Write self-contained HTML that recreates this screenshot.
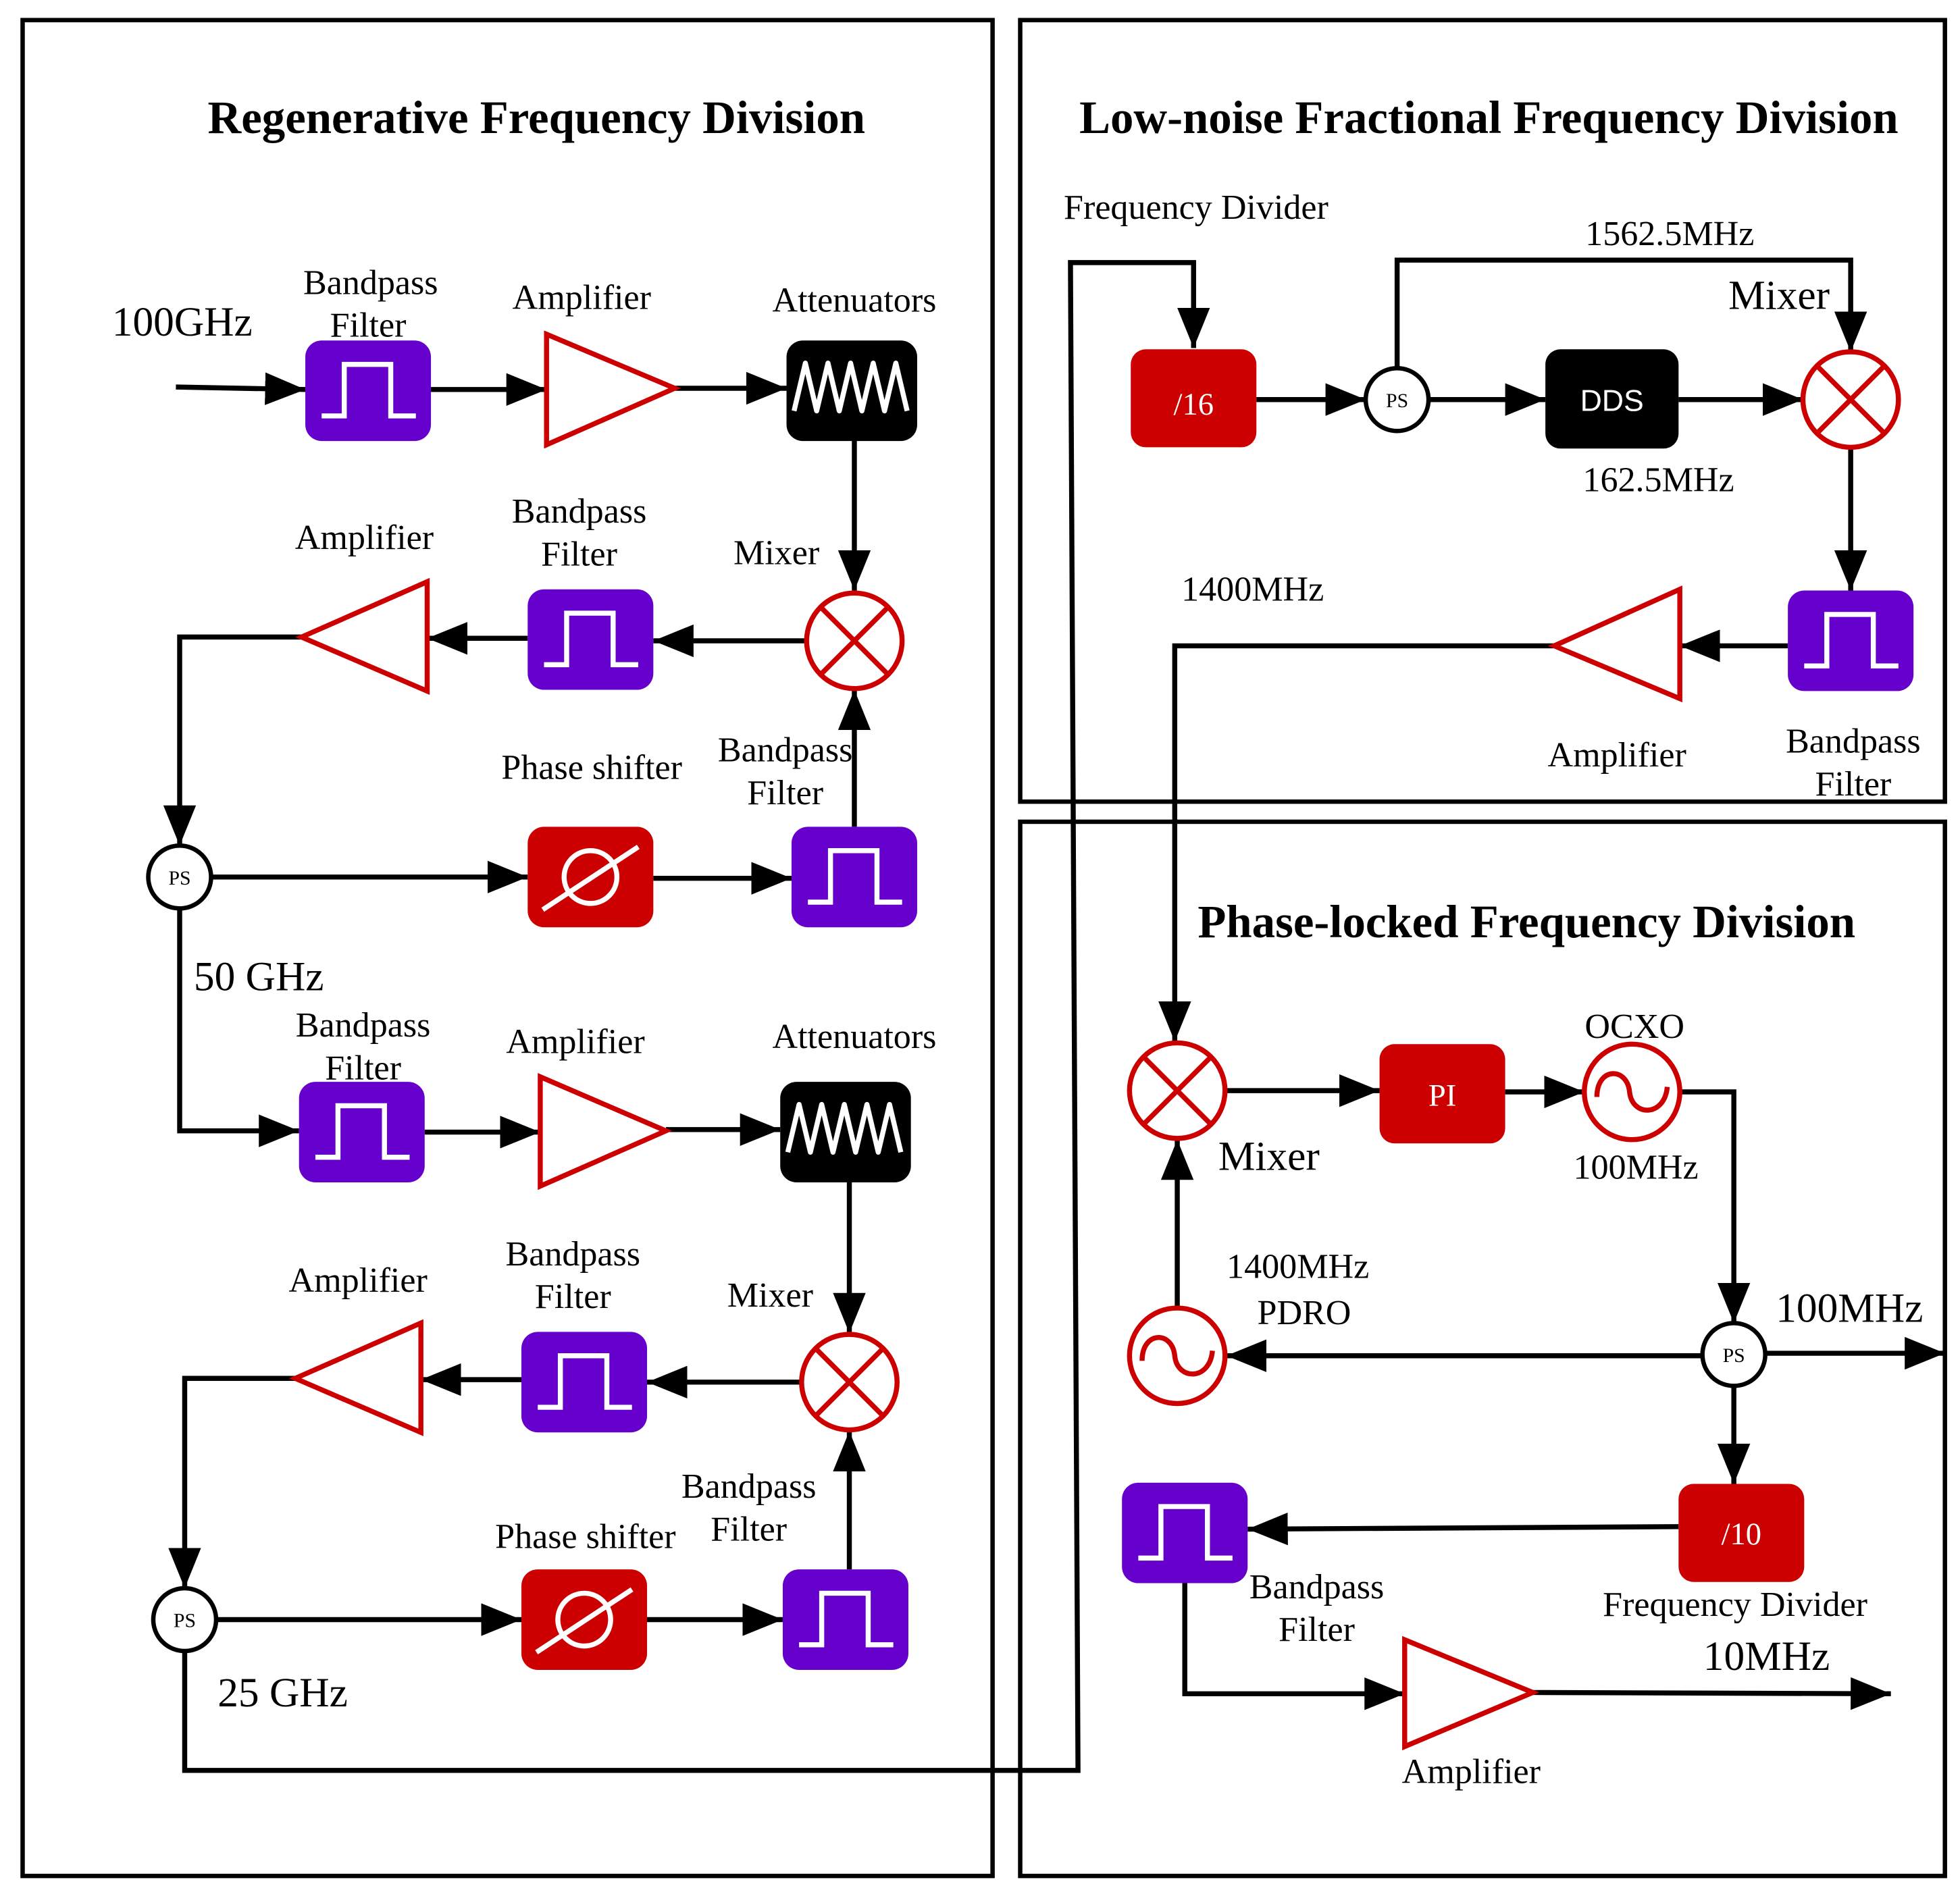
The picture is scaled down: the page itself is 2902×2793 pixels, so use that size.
<!DOCTYPE html>
<html><head><meta charset="utf-8"><style>
html,body{margin:0;padding:0;background:#fff}
svg{display:block}
text{font-family:"Liberation Serif",serif;fill:#000}
.l{font-size:28px;text-anchor:middle}
.b{font-size:33px;text-anchor:middle}
.t{font-size:37px;font-weight:bold;text-anchor:middle}
.w{fill:#fff;text-anchor:middle}
</style></head><body>
<svg width="2902" height="2793" viewBox="0 0 1560 1501" preserveAspectRatio="none" xmlns="http://www.w3.org/2000/svg">
<defs>
<marker id="a" markerUnits="userSpaceOnUse" markerWidth="34" markerHeight="26" refX="32" refY="13" orient="auto">
<path d="M0,0 L32,13 L0,26 Z" fill="#000"/></marker>
<g id="bpf"><rect x="0" y="0" width="100" height="80" rx="13" fill="#6600cc"/>
<polyline points="13,60 31,60 31,19 68,19 68,60 88,60" fill="none" stroke="#fff" stroke-width="4"/></g>
<g id="att"><rect x="0" y="0" width="104" height="80" rx="13" fill="#000"/>
<polyline points="6,56 15,18 24,56 33,18 42,56 51,18 60,56 69,18 78,56 87,18 96,56" fill="none" stroke="#fff" stroke-width="4" stroke-linejoin="round"/></g>
<g id="mix"><circle cx="0" cy="0" r="38" fill="#fff" stroke="#cc0000" stroke-width="4"/>
<path d="M-27,-27 L27,27 M27,-27 L-27,27" stroke="#cc0000" stroke-width="4"/></g>
<g id="ps"><rect x="0" y="0" width="100" height="80" rx="13" fill="#cc0000"/>
<circle cx="50" cy="40" r="21" fill="none" stroke="#fff" stroke-width="4"/>
<path d="M12,66 L88,16" stroke="#fff" stroke-width="4"/></g>
<g id="osc"><circle cx="0" cy="0" r="38" fill="#fff" stroke="#cc0000" stroke-width="4"/>
<path d="M-28,4 C-28,-20 -4,-20 -2,0 C0,20 26,20 28,-4" fill="none" stroke="#cc0000" stroke-width="4"/></g>
</defs>
<g fill="none" stroke="#000" stroke-width="3.5">
<rect x="18" y="16" width="772" height="1477"/>
<rect x="812" y="16" width="736" height="622"/>
<rect x="812" y="654" width="736" height="839"/>
</g>
<text class="t" x="427" y="106">Regenerative Frequency Division</text>
<text class="t" x="1185" y="106">Low-noise Fractional Frequency Division</text>
<text class="t" x="1215" y="746">Phase-locked Frequency Division</text>

<g fill="none" stroke="#000" stroke-width="4" marker-end="url(#a)">
<path d="M140,308 L243,310"/>
<path d="M343,310 L435,310"/>
<path d="M537,309 L626,309"/>
<path d="M680,350 L680,470"/>
<path d="M641,510 L520,510"/>
<path d="M420,508 L340,508"/>
<path d="M240,507 L143,507 L143,673"/>
<path d="M168,698 L420,698"/>
<path d="M520,699 L630,699"/>
<path d="M680,658 L680,549"/>
<path d="M143,723 L143,900 L238,900"/>
<path d="M338,901 L430,901"/>
<path d="M530,899 L621,899"/>
<path d="M676,940 L676,1061"/>
<path d="M637,1100 L515,1100"/>
<path d="M415,1098 L335,1098"/>
<path d="M235,1097 L147,1097 L147,1264"/>
<path d="M172,1289 L415,1289"/>
<path d="M515,1289 L623,1289"/>
<path d="M676,1249 L676,1139"/>
<path d="M147,1314 L147,1409 L858,1409 L852,209 L950,209 L950,277"/>
<path d="M1000,318 L1087,318"/>
<path d="M1137,318 L1230,318"/>
<path d="M1112,293 L1112,207 L1473,207 L1473,280"/>
<path d="M1336,318 L1435,318"/>
<path d="M1473,356 L1473,470"/>
<path d="M1423,514 L1337,514"/>
<path d="M1237,514 L935,514 L935,829"/>
<path d="M976,868 L1098,868"/>
<path d="M1198,869 L1261,869"/>
<path d="M1337,869 L1380,869 L1380,1053"/>
<path d="M1405,1077 L1548,1077"/>
<path d="M1355,1079 L976,1079"/>
<path d="M937,1040 L937,907"/>
<path d="M1380,1103 L1380,1181"/>
<path d="M1336,1215 L993,1217"/>
<path d="M943,1258 L943,1348 L1118,1348"/>
<path d="M1220,1347 L1505,1348"/>
</g>

<use href="#bpf" x="243" y="271"/>
<polygon points="435,266 435,354 537,309" fill="#fff" stroke="#cc0000" stroke-width="4"/>
<use href="#att" x="626" y="271"/>
<use href="#mix" x="680" y="510"/>
<use href="#bpf" x="420" y="469"/>
<polygon points="340,463 340,550 240,507" fill="#fff" stroke="#cc0000" stroke-width="4"/>
<use href="#ps" x="420" y="658"/>
<use href="#bpf" x="630" y="658"/>

<use href="#bpf" x="238" y="861"/>
<polygon points="430,857 430,944 530,900" fill="#fff" stroke="#cc0000" stroke-width="4"/>
<use href="#att" x="621" y="861"/>
<use href="#mix" x="676" y="1100"/>
<use href="#bpf" x="415" y="1060"/>
<polygon points="335,1053 335,1140 235,1097" fill="#fff" stroke="#cc0000" stroke-width="4"/>
<use href="#ps" x="415" y="1249"/>
<use href="#bpf" x="623" y="1249"/>

<rect x="900" y="278" width="100" height="78" rx="12" fill="#cc0000"/>
<text class="w" x="950" y="330" font-size="25">/16</text>
<rect x="1230" y="278" width="106" height="79" rx="12" fill="#000"/>
<text class="w" x="1283" y="327" font-size="24" style="font-family:'Liberation Sans',sans-serif">DDS</text>
<use href="#mix" x="1473" y="318"/>
<use href="#bpf" x="1423" y="470"/>
<polygon points="1337,469 1337,556 1237,514" fill="#fff" stroke="#cc0000" stroke-width="4"/>

<use href="#mix" x="937" y="868"/>
<rect x="1098" y="831" width="100" height="79" rx="12" fill="#cc0000"/>
<text class="w" x="1148" y="880" font-size="25">PI</text>
<use href="#osc" x="1299" y="869"/>
<use href="#osc" x="937" y="1079"/>
<rect x="1336" y="1181" width="100" height="78" rx="12" fill="#cc0000"/>
<text class="w" x="1386" y="1229" font-size="25">/10</text>
<use href="#bpf" x="893" y="1180"/>
<polygon points="1118,1305 1118,1390 1220,1347" fill="#fff" stroke="#cc0000" stroke-width="4"/>

<g fill="#fff" stroke="#000" stroke-width="3.5">
<circle cx="143" cy="698" r="25"/><circle cx="147" cy="1289" r="25"/>
<circle cx="1112" cy="318" r="25"/><circle cx="1380" cy="1078" r="25"/>
</g>
<g font-size="16" text-anchor="middle">
<text x="143" y="704">PS</text><text x="147" y="1295">PS</text>
<text x="1112" y="324">PS</text><text x="1380" y="1084">PS</text>
</g>

<text class="l" x="295" y="234">Bandpass</text><text class="l" x="293" y="268">Filter</text>
<text class="l" x="463" y="246">Amplifier</text>
<text class="l" x="680" y="248">Attenuators</text>
<text class="b" x="145" y="267">100GHz</text>
<text class="l" x="290" y="437">Amplifier</text>
<text class="l" x="461" y="416">Bandpass</text><text class="l" x="461" y="450">Filter</text>
<text class="l" x="618" y="449">Mixer</text>
<text class="l" x="471" y="620">Phase shifter</text>
<text class="l" x="625" y="606">Bandpass</text><text class="l" x="625" y="640">Filter</text>
<text class="b" x="206" y="788">50 GHz</text>
<text class="l" x="289" y="825">Bandpass</text><text class="l" x="289" y="859">Filter</text>
<text class="l" x="458" y="838">Amplifier</text>
<text class="l" x="680" y="834">Attenuators</text>
<text class="l" x="285" y="1028">Amplifier</text>
<text class="l" x="456" y="1007">Bandpass</text><text class="l" x="456" y="1041">Filter</text>
<text class="l" x="613" y="1040">Mixer</text>
<text class="l" x="466" y="1232">Phase shifter</text>
<text class="l" x="596" y="1192">Bandpass</text><text class="l" x="596" y="1226">Filter</text>
<text class="b" x="225" y="1358">25 GHz</text>

<text class="l" x="952" y="174">Frequency Divider</text>
<text class="l" x="1329" y="195">1562.5MHz</text>
<text class="b" x="1416" y="246">Mixer</text>
<text class="l" x="1320" y="391">162.5MHz</text>
<text class="l" x="997" y="478">1400MHz</text>
<text class="l" x="1287" y="610">Amplifier</text>
<text class="l" x="1475" y="599">Bandpass</text><text class="l" x="1475" y="633">Filter</text>

<text class="l" x="1301" y="826">OCXO</text>
<text class="l" x="1302" y="938">100MHz</text>
<text class="b" x="1010" y="931">Mixer</text>
<text class="l" x="1033" y="1017">1400MHz</text>
<text class="l" x="1038" y="1054">PDRO</text>
<text class="b" x="1472" y="1052">100MHz</text>
<text class="l" x="1381" y="1286">Frequency Divider</text>
<text class="l" x="1048" y="1272">Bandpass</text><text class="l" x="1048" y="1306">Filter</text>
<text class="b" x="1406" y="1329">10MHz</text>
<text class="l" x="1171" y="1419">Amplifier</text>
</svg>
</body></html>
